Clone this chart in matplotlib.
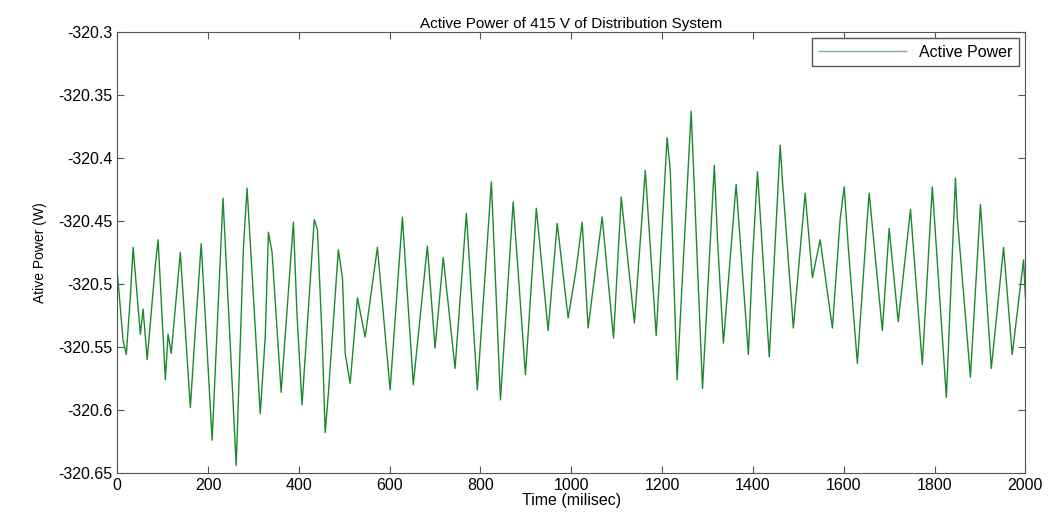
import numpy as np
import matplotlib.pyplot as plt
from matplotlib.ticker import FuncFormatter

plt.rcParams['font.family'] = ['Liberation Sans', 'DejaVu Sans']

# pontos (picos, vales e alguns ombros)
tempo = [0, 13, 20, 29, 35, 51, 57, 66, 84, 90, 106, 112, 119, 139, 161, 172,
         185, 209, 233, 262, 278, 286, 315, 326, 333, 341, 361, 381, 388, 396,
         407, 434, 441, 452, 458, 465, 487, 496, 502, 513, 529, 546,
         573, 601, 628, 652, 683, 700, 718, 744, 769, 793, 824, 844, 872, 899,
         923, 949, 969, 993, 1010, 1024, 1037, 1068, 1093, 1110, 1139, 1163,
         1174, 1187, 1211, 1218, 1233, 1264, 1289, 1315, 1322, 1335, 1363, 1390,
         1399, 1410, 1436, 1460, 1465, 1489, 1515, 1531, 1548, 1575, 1592, 1601,
         1610, 1630, 1652, 1656, 1685, 1700, 1720, 1747, 1773, 1795, 1826, 1846,
         1850, 1879, 1901, 1925, 1952, 1971, 1996, 2000]
potencia = [-320.49, -320.545, -320.556, -320.51, -320.471, -320.54, -320.52,
            -320.56, -320.485, -320.465, -320.576, -320.54, -320.555, -320.475,
            -320.598, -320.537, -320.468, -320.624, -320.432, -320.644, -320.471,
            -320.424, -320.603, -320.542, -320.459, -320.475, -320.586, -320.486,
            -320.451, -320.525, -320.596, -320.449, -320.457, -320.55, -320.618,
            -320.587, -320.473, -320.495, -320.555, -320.579, -320.511, -320.542,
            -320.471, -320.584, -320.447, -320.58, -320.47, -320.551, -320.479,
            -320.567, -320.444, -320.584, -320.419, -320.592, -320.435, -320.572,
            -320.44, -320.537, -320.452, -320.527, -320.49, -320.451, -320.535,
            -320.447, -320.543, -320.431, -320.531, -320.41, -320.471, -320.541,
            -320.384, -320.41, -320.576, -320.363, -320.583, -320.406, -320.465,
            -320.547, -320.421, -320.556, -320.481, -320.411, -320.558, -320.39,
            -320.418, -320.535, -320.428, -320.495, -320.465, -320.535, -320.449,
            -320.423, -320.471, -320.563, -320.447, -320.428, -320.537, -320.456,
            -320.53, -320.441, -320.564, -320.423, -320.59, -320.416, -320.447,
            -320.574, -320.437, -320.567, -320.471, -320.556, -320.481, -320.51]

xticks = np.arange(0, 2001, 200)
yticks = [-320.65, -320.6, -320.55, -320.5, -320.45, -320.4, -320.35, -320.3]

fig = plt.figure(figsize=(10.56, 5.13), dpi=100)
ax = fig.add_axes([0.111, 0.078, 0.86, 0.86])

ax.plot(tempo, potencia, color='#1b8a2e', linewidth=1.0, label='Active Power')

ax.set_xlim(0, 2000)
ax.set_ylim(-320.65, -320.3)
ax.set_xticks(xticks)
ax.set_yticks(yticks)
ax.yaxis.set_major_formatter(FuncFormatter(lambda v, p: f"{v:g}"))
ax.tick_params(direction='in', top=True, right=True, labelsize=11.5, length=5,
               color='#555555')
for s in ax.spines.values():
    s.set_color('#555555')

ax.set_title("Active Power of 415 V of Distribution System", fontsize=11, pad=3)
ax.set_xlabel("Time (milisec)", fontsize=11.5, labelpad=0)
ax.set_ylabel("Ative Power (W)", fontsize=10, labelpad=8)

leg = ax.legend(loc='upper right', fontsize=11.5, fancybox=False, framealpha=1,
                edgecolor='#555555', handlelength=5.5, borderaxespad=0.4)
leg.get_lines()[0].set_color('#7fa8a0')

plt.savefig("out.png", dpi=100)
